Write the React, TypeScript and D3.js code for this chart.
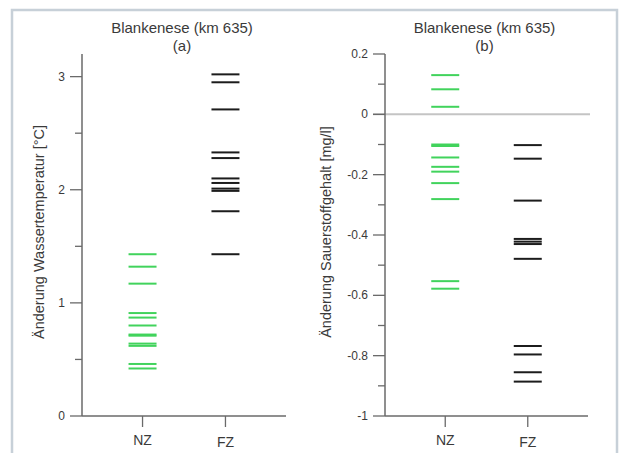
import React from "react";
import * as d3 from "d3";

const categories = ["NZ", "FZ"];
const tempNZ = [1.43, 1.32, 1.17, 0.91, 0.87, 0.8, 0.72, 0.71, 0.64, 0.62, 0.46, 0.42];
const tempFZ = [3.02, 2.95, 2.71, 2.33, 2.28, 2.1, 2.06, 2.01, 1.99, 1.81, 1.43];
const oxyNZ = [0.13, 0.083, 0.025, -0.1, -0.105, -0.143, -0.174, -0.19, -0.228, -0.281, -0.553, -0.578];
const oxyFZ = [-0.102, -0.147, -0.286, -0.413, -0.422, -0.43, -0.479, -0.768, -0.796, -0.855, -0.886];
const tempMajor = [0, 1, 2, 3];
const tempMinor = [0.5, 1.5, 2.5];
const oxyMajor = [0.2, 0, -0.2, -0.4, -0.6, -0.8, -1];
const oxyMinor = [0.1, -0.1, -0.3, -0.5, -0.7, -0.9];

const FONT = "'Liberation Sans', Arial, sans-serif";
const GREEN = "#41d35c";
const BLACK = "#1c1c1c";
const AXIS = "#6a6a6a";
const TEXT = "#3a3a3a";

type PanelProps = {
  x0: number;
  x1: number;
  domain: [number, number];
  major: number[];
  minor: number[];
  nz: number[];
  fz: number[];
  fmt: (v: number) => string;
  title: string;
  sub: string;
  ylabel: string;
  ylabelX: number;
  zeroLine?: boolean;
};

function Panel(p: PanelProps) {
  const y = d3.scaleLinear().domain(p.domain).range([416, 54]);
  const x = d3.scalePoint<string>().domain(categories).range([p.x0, p.x1]).padding(0.73);
  const half = 14;
  const titleX = (p.x0 + p.x1) / 2 - 2;
  const series: [string, number[], string][] = [
    ["NZ", p.nz, GREEN],
    ["FZ", p.fz, BLACK],
  ];
  return (
    <g>
      <text x={titleX} y={33} textAnchor="middle" fontSize={15} fill={TEXT} fontFamily={FONT}>
        {p.title}
      </text>
      <text x={titleX} y={51} textAnchor="middle" fontSize={15} fill={TEXT} fontFamily={FONT}>
        {p.sub}
      </text>
      <text
        transform={`translate(${p.ylabelX},${232}) rotate(-90)`}
        textAnchor="middle"
        fontSize={14.5}
        fill={TEXT}
        fontFamily={FONT}
      >
        {p.ylabel}
      </text>
      {p.zeroLine && (
        <line x1={p.x0 - 12} x2={p.x1 + 2} y1={y(0)} y2={y(0)} stroke="#c4c4c4" strokeWidth={2} />
      )}
      <line x1={p.x0} x2={p.x0} y1={y(p.domain[0])} y2={y(p.domain[1])} stroke={AXIS} strokeWidth={1.5} />
      <line x1={p.x0} x2={p.x1} y1={y(p.domain[0])} y2={y(p.domain[0])} stroke={AXIS} strokeWidth={1.5} />
      {p.major.map((v) => (
        <g key={"M" + v}>
          <line x1={p.x0 - 12} x2={p.x0} y1={y(v)} y2={y(v)} stroke={AXIS} strokeWidth={1.3} />
          <text
            x={p.x0 - 17}
            y={y(v) + 4}
            textAnchor="end"
            fontSize={12}
            fill={TEXT}
            fontFamily={FONT}
          >
            {p.fmt(v)}
          </text>
        </g>
      ))}
      {p.minor.map((v) => (
        <line key={"m" + v} x1={p.x0 - 7} x2={p.x0} y1={y(v)} y2={y(v)} stroke={AXIS} strokeWidth={1.3} />
      ))}
      {categories.map((c, i) => (
        <g key={c}>
          <line x1={x(c)} x2={x(c)} y1={416} y2={427} stroke={AXIS} strokeWidth={1.3} />
          <text
            x={x(c)}
            y={445 + i * 2}
            textAnchor="middle"
            fontSize={14}
            fill={TEXT}
            fontFamily={FONT}
          >
            {c}
          </text>
        </g>
      ))}
      {series.map(([c, vals, col]) =>
        vals.map((v, i) => (
          <line
            key={c + i}
            x1={(x(c) as number) - half}
            x2={(x(c) as number) + half}
            y1={y(v)}
            y2={y(v)}
            stroke={col}
            strokeWidth={2}
          />
        ))
      )}
    </g>
  );
}

export default function App() {
  return (
    <svg
      width={623}
      height={453}
      style={{ position: "absolute", left: 0, top: 0, background: "#fff" }}
    >
      <rect x={0} y={0} width={623} height={453} fill="#fff" />
      <rect x={12} y={10} width={605} height={460} fill="none" stroke="#c7d0d8" strokeWidth={2.5} />
      <Panel
        x0={82}
        x1={286}
        domain={[0, 3.2]}
        major={tempMajor}
        minor={tempMinor}
        nz={tempNZ}
        fz={tempFZ}
        fmt={(v) => d3.format("d")(v)}
        title="Blankenese (km 635)"
        sub="(a)"
        ylabel="Änderung Wassertemperatur [°C]"
        ylabelX={44}
      />
      <Panel
        x0={385}
        x1={588}
        domain={[-1, 0.2]}
        major={oxyMajor}
        minor={oxyMinor}
        nz={oxyNZ}
        fz={oxyFZ}
        fmt={(v) => (v === 0 ? "0" : v === -1 ? "-1" : d3.format(".1f")(v).replace("−", "-"))}
        title="Blankenese (km 635)"
        sub="(b)"
        ylabel="Änderung Sauerstoffgehalt [mg/l]"
        ylabelX={331}
        zeroLine
      />
    </svg>
  );
}
